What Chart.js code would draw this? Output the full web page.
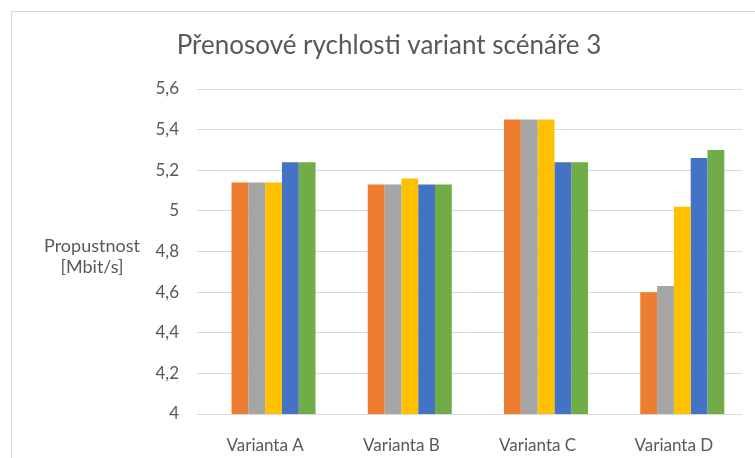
<!DOCTYPE html>
<html>
<head>
<meta charset="utf-8">
<script src="https://cdn.jsdelivr.net/npm/chart.js@4.4.0/dist/chart.umd.min.js"></script>
<style>
    html, body { margin: 0; padding: 0; background: #fff; }
    #wrap { width: 755px; height: 458px; position: relative; }
</style>
</head>
<body>
<div id="wrap"><canvas id="chart_canvas" width="755" height="458"></canvas></div>
<script>
var categories = ["Varianta A", "Varianta B", "Varianta C", "Varianta D"];
// first series has no values in the picture, it only keeps its slot in each group
var series0 = [null, null, null, null];
var series1 = [5.14, 5.13, 5.45, 4.60];
var series2 = [5.14, 5.13, 5.45, 4.63];
var series3 = [5.14, 5.16, 5.45, 5.02];
var series4 = [5.24, 5.13, 5.24, 5.26];
var series5 = [5.24, 5.13, 5.24, 5.30];
var seriesNames = ["Série 0", "Série 1", "Série 2", "Série 3", "Série 4", "Série 5"];
var barColors = ["#5B9BD5", "#ED7D31", "#A5A5A5", "#FFC000", "#4472C4", "#70AD47"];
var yTicks = { min: 4, max: 5.6, step: 0.2 };

var textColor = "#595959";
var fontName = "Lato, 'Liberation Sans', sans-serif";

// frame, title and the horizontal y axis caption
var decor = {
    id: 'decor',
    afterDraw: function (chart) {
        var ctx = chart.ctx;
        ctx.save();
        ctx.strokeStyle = "#d9d9d9";
        ctx.lineWidth = 1;
        ctx.strokeRect(11.5, 11.5, 900, 900);
        ctx.fillStyle = textColor;
        ctx.textAlign = "center";
        ctx.textBaseline = "alphabetic";
        ctx.font = "26px " + fontName;
        ctx.fillText("Přenosové rychlosti variant scénáře 3", 389, 54);
        ctx.font = "18px " + fontName;
        ctx.fillText("Propustnost", 92, 252);
        ctx.fillText("[Mbit/s]", 92, 273);
        ctx.restore();
    }
};

var allSeries = [series0, series1, series2, series3, series4, series5];
var datasets = [];
for (var i = 0; i < allSeries.length; i++) {
    datasets.push({
        label: seriesNames[i],
        data: allSeries[i],
        backgroundColor: barColors[i],
        borderWidth: 0,
        barPercentage: 1,
        categoryPercentage: 0.74
    });
}

var myChart = new Chart('chart_canvas', {
    type: 'bar',
    data: { labels: categories, datasets: datasets },
    options: {
        responsive: false,
        animation: false,
        layout: { padding: { top: 89, right: 13, bottom: 0, left: 0 } },
        plugins: {
            legend: { display: false },
            title: { display: false },
            tooltip: { enabled: false }
        },
        scales: {
            x: {
                grid: { display: false },
                border: { display: false },
                ticks: { color: textColor, font: { family: fontName, size: 17 }, padding: 13 },
                afterFit: function (scale) { scale.height = 44; }
            },
            y: {
                min: yTicks.min,
                max: yTicks.max,
                grid: { color: "#d9d9d9", lineWidth: 1, drawTicks: false },
                border: { display: false },
                ticks: {
                    stepSize: yTicks.step,
                    color: textColor,
                    font: { family: fontName, size: 17 },
                    padding: 18,
                    callback: function (v) { return String(Number(v.toFixed(1))).replace('.', ','); }
                },
                afterFit: function (scale) { scale.width = 197; }
            }
        }
    },
    plugins: [decor]
});
</script>
</body>
</html>
